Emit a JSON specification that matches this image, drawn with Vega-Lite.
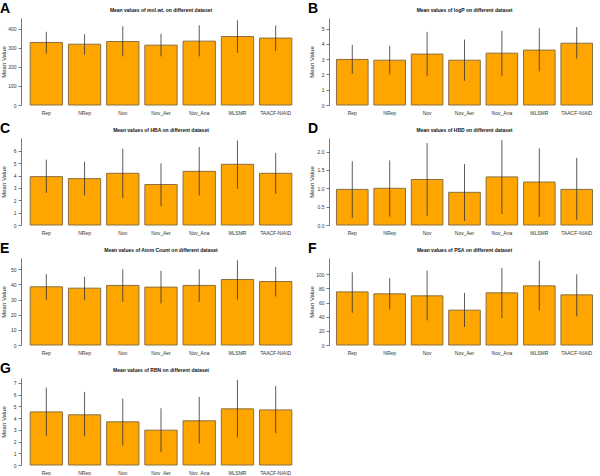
{
  "$schema": "https://vega.github.io/schema/vega-lite/v6.json",
  "padding": {"left": 0, "top": 2, "right": 0, "bottom": 0},
  "background": "white",
  "config": {
    "font": "Liberation Sans",
    "view": {"stroke": null},
    "axis": {"grid": false, "labelColor": "#333", "titleColor": "#222", "titleFontWeight": "normal", "domainColor": "#555", "tickColor": "#555", "labelOverlap": false},
    "axisX": {"domain": false, "ticks": false, "labelAngle": 0, "labelFontSize": 5, "labelPadding": 5, "title": null},
    "axisY": {"labelFontSize": 5, "tickSize": 3, "labelPadding": 2, "titleFontSize": 6, "titlePadding": 3, "minExtent": 12, "maxExtent": 12, "domainWidth": 0.8, "tickWidth": 0.8, "labelBound": false, "labelOverlap": false},
    "title": {"fontSize": 5, "fontWeight": "bold", "color": "#111", "offset": 5}
  },
  "data": {"values": [
    {"panel": "A", "dataset": "Rep", "mean": 327, "low": 270, "high": 383},
    {"panel": "A", "dataset": "NRep", "mean": 318, "low": 263, "high": 370},
    {"panel": "A", "dataset": "Nov", "mean": 332, "low": 254, "high": 412},
    {"panel": "A", "dataset": "Nov_Aer", "mean": 313, "low": 254, "high": 372},
    {"panel": "A", "dataset": "Nov_Ana", "mean": 334, "low": 254, "high": 417},
    {"panel": "A", "dataset": "MLSMR", "mean": 358, "low": 273, "high": 443},
    {"panel": "A", "dataset": "TAACF-NIAID", "mean": 350, "low": 283, "high": 416},
    {"panel": "B", "dataset": "Rep", "mean": 2.98, "low": 2.04, "high": 3.93},
    {"panel": "B", "dataset": "NRep", "mean": 2.93, "low": 2.0, "high": 3.87},
    {"panel": "B", "dataset": "Nov", "mean": 3.33, "low": 1.87, "high": 4.78},
    {"panel": "B", "dataset": "Nov_Aer", "mean": 2.93, "low": 1.59, "high": 4.28},
    {"panel": "B", "dataset": "Nov_Ana", "mean": 3.39, "low": 1.89, "high": 4.85},
    {"panel": "B", "dataset": "MLSMR", "mean": 3.59, "low": 2.2, "high": 5.02},
    {"panel": "B", "dataset": "TAACF-NIAID", "mean": 4.04, "low": 3.04, "high": 5.1},
    {"panel": "C", "dataset": "Rep", "mean": 3.92, "low": 2.6, "high": 5.3},
    {"panel": "C", "dataset": "NRep", "mean": 3.76, "low": 2.39, "high": 5.13},
    {"panel": "C", "dataset": "Nov", "mean": 4.19, "low": 2.18, "high": 6.18},
    {"panel": "C", "dataset": "Nov_Aer", "mean": 3.28, "low": 1.53, "high": 5.0},
    {"panel": "C", "dataset": "Nov_Ana", "mean": 4.35, "low": 2.39, "high": 6.32},
    {"panel": "C", "dataset": "MLSMR", "mean": 4.92, "low": 2.93, "high": 6.85},
    {"panel": "C", "dataset": "TAACF-NIAID", "mean": 4.19, "low": 2.53, "high": 5.83},
    {"panel": "D", "dataset": "Rep", "mean": 0.97, "low": 0.19, "high": 1.74},
    {"panel": "D", "dataset": "NRep", "mean": 1.0, "low": 0.23, "high": 1.76},
    {"panel": "D", "dataset": "Nov", "mean": 1.24, "low": 0.25, "high": 2.23},
    {"panel": "D", "dataset": "Nov_Aer", "mean": 0.89, "low": 0.11, "high": 1.66},
    {"panel": "D", "dataset": "Nov_Ana", "mean": 1.31, "low": 0.3, "high": 2.31},
    {"panel": "D", "dataset": "MLSMR", "mean": 1.17, "low": 0.22, "high": 2.09},
    {"panel": "D", "dataset": "TAACF-NIAID", "mean": 0.97, "low": 0.14, "high": 1.83},
    {"panel": "E", "dataset": "Rep", "mean": 38.4, "low": 29.8, "high": 46.7},
    {"panel": "E", "dataset": "NRep", "mean": 37.5, "low": 29.6, "high": 45.0},
    {"panel": "E", "dataset": "Nov", "mean": 39.3, "low": 28.5, "high": 50.0},
    {"panel": "E", "dataset": "Nov_Aer", "mean": 38.2, "low": 27.4, "high": 48.9},
    {"panel": "E", "dataset": "Nov_Ana", "mean": 39.3, "low": 28.5, "high": 50.0},
    {"panel": "E", "dataset": "MLSMR", "mean": 43.2, "low": 30.0, "high": 55.9},
    {"panel": "E", "dataset": "TAACF-NIAID", "mean": 41.9, "low": 32.0, "high": 51.5},
    {"panel": "F", "dataset": "Rep", "mean": 75.1, "low": 45.5, "high": 102.8},
    {"panel": "F", "dataset": "NRep", "mean": 72.3, "low": 50.2, "high": 94.4},
    {"panel": "F", "dataset": "Nov", "mean": 69.5, "low": 34.7, "high": 105.2},
    {"panel": "F", "dataset": "Nov_Aer", "mean": 49.3, "low": 25.4, "high": 73.7},
    {"panel": "F", "dataset": "Nov_Ana", "mean": 73.7, "low": 38.0, "high": 108.9},
    {"panel": "F", "dataset": "MLSMR", "mean": 83.6, "low": 48.8, "high": 119.2},
    {"panel": "F", "dataset": "TAACF-NIAID", "mean": 70.9, "low": 40.4, "high": 100.0},
    {"panel": "G", "dataset": "Rep", "mean": 4.53, "low": 2.49, "high": 6.6},
    {"panel": "G", "dataset": "NRep", "mean": 4.28, "low": 2.44, "high": 6.23},
    {"panel": "G", "dataset": "Nov", "mean": 3.68, "low": 1.67, "high": 5.67},
    {"panel": "G", "dataset": "Nov_Aer", "mean": 2.97, "low": 1.1, "high": 4.84},
    {"panel": "G", "dataset": "Nov_Ana", "mean": 3.77, "low": 1.84, "high": 5.81},
    {"panel": "G", "dataset": "MLSMR", "mean": 4.79, "low": 2.35, "high": 7.25},
    {"panel": "G", "dataset": "TAACF-NIAID", "mean": 4.7, "low": 2.72, "high": 6.74}
  ]},
  "columns": 2,
  "spacing": {"row": 7, "column": 7},
  "align": "each",
  "concat": [
    {"title": {"text": "A", "anchor": "start", "fontSize": 14, "fontWeight": "bold", "color": "#000", "offset": -8},
     "vconcat": [{"title": "Mean values of mol.wt. on different dataset", "width": 280, "height": 87,
      "transform": [{"filter": "datum.panel == 'A'"}],
      "encoding": {"x": {"field": "dataset", "type": "nominal", "sort": null, "scale": {"paddingInner": 0.155, "paddingOuter": 0.24}}},
      "layer": [
        {"mark": {"type": "bar", "fill": "#FFA500", "stroke": "#8a7040", "strokeWidth": 1},
         "encoding": {"y": {"field": "mean", "type": "quantitative", "title": "Mean Value", "scale": {"domain": [0, 455], "nice": false}, "axis": {"values": [0, 100, 200, 300, 400], "labelOverlap": false}}}},
        {"mark": {"type": "rule", "color": "#333", "strokeWidth": 0.8},
         "encoding": {"y": {"field": "low", "type": "quantitative", "title": "Mean Value", "axis": {"values": [0, 100, 200, 300, 400], "labelOverlap": false}}, "y2": {"field": "high"}}}
      ]}]},
    {"title": {"text": "B", "anchor": "start", "fontSize": 14, "fontWeight": "bold", "color": "#000", "offset": -8},
     "vconcat": [{"title": "Mean values of logP on different dataset", "width": 271, "height": 87,
      "transform": [{"filter": "datum.panel == 'B'"}],
      "encoding": {"x": {"field": "dataset", "type": "nominal", "sort": null, "scale": {"paddingInner": 0.155, "paddingOuter": 0.2}}},
      "layer": [
        {"mark": {"type": "bar", "fill": "#FFA500", "stroke": "#8a7040", "strokeWidth": 1},
         "encoding": {"y": {"field": "mean", "type": "quantitative", "title": "Mean Value", "scale": {"domain": [0, 5.69], "nice": false}, "axis": {"values": [0, 1, 2, 3, 4, 5], "labelOverlap": false}}}},
        {"mark": {"type": "rule", "color": "#333", "strokeWidth": 0.8},
         "encoding": {"y": {"field": "low", "type": "quantitative", "title": "Mean Value", "axis": {"values": [0, 1, 2, 3, 4, 5], "labelOverlap": false}}, "y2": {"field": "high"}}}
      ]}]},
    {"title": {"text": "C", "anchor": "start", "fontSize": 14, "fontWeight": "bold", "color": "#000", "offset": -8},
     "vconcat": [{"title": "Mean values of HBA on different dataset", "width": 280, "height": 87,
      "transform": [{"filter": "datum.panel == 'C'"}],
      "encoding": {"x": {"field": "dataset", "type": "nominal", "sort": null, "scale": {"paddingInner": 0.155, "paddingOuter": 0.24}}},
      "layer": [
        {"mark": {"type": "bar", "fill": "#FFA500", "stroke": "#8a7040", "strokeWidth": 1},
         "encoding": {"y": {"field": "mean", "type": "quantitative", "title": "Mean Value", "scale": {"domain": [0, 7.05], "nice": false}, "axis": {"values": [0, 1, 2, 3, 4, 5, 6], "labelOverlap": false}}}},
        {"mark": {"type": "rule", "color": "#333", "strokeWidth": 0.8},
         "encoding": {"y": {"field": "low", "type": "quantitative", "title": "Mean Value", "axis": {"values": [0, 1, 2, 3, 4, 5, 6], "labelOverlap": false}}, "y2": {"field": "high"}}}
      ]}]},
    {"title": {"text": "D", "anchor": "start", "fontSize": 14, "fontWeight": "bold", "color": "#000", "offset": -8},
     "vconcat": [{"title": "Mean values of HBD on different dataset", "width": 271, "height": 87,
      "transform": [{"filter": "datum.panel == 'D'"}],
      "encoding": {"x": {"field": "dataset", "type": "nominal", "sort": null, "scale": {"paddingInner": 0.155, "paddingOuter": 0.2}}},
      "layer": [
        {"mark": {"type": "bar", "fill": "#FFA500", "stroke": "#8a7040", "strokeWidth": 1},
         "encoding": {"y": {"field": "mean", "type": "quantitative", "title": "Mean Value", "scale": {"domain": [0, 2.37], "nice": false}, "axis": {"values": [0, 0.5, 1, 1.5, 2], "format": ".1f", "labelOverlap": false}}}},
        {"mark": {"type": "rule", "color": "#333", "strokeWidth": 0.8},
         "encoding": {"y": {"field": "low", "type": "quantitative", "title": "Mean Value", "axis": {"values": [0, 0.5, 1, 1.5, 2], "format": ".1f", "labelOverlap": false}}, "y2": {"field": "high"}}}
      ]}]},
    {"title": {"text": "E", "anchor": "start", "fontSize": 14, "fontWeight": "bold", "color": "#000", "offset": -8},
     "vconcat": [{"title": "Mean values of Atom Count on different dataset", "width": 280, "height": 87,
      "transform": [{"filter": "datum.panel == 'E'"}],
      "encoding": {"x": {"field": "dataset", "type": "nominal", "sort": null, "scale": {"paddingInner": 0.155, "paddingOuter": 0.24}}},
      "layer": [
        {"mark": {"type": "bar", "fill": "#FFA500", "stroke": "#8a7040", "strokeWidth": 1},
         "encoding": {"y": {"field": "mean", "type": "quantitative", "title": "Mean Value", "scale": {"domain": [0, 57.4], "nice": false}, "axis": {"values": [0, 10, 20, 30, 40, 50], "labelOverlap": false}}}},
        {"mark": {"type": "rule", "color": "#333", "strokeWidth": 0.8},
         "encoding": {"y": {"field": "low", "type": "quantitative", "title": "Mean Value", "axis": {"values": [0, 10, 20, 30, 40, 50], "labelOverlap": false}}, "y2": {"field": "high"}}}
      ]}]},
    {"title": {"text": "F", "anchor": "start", "fontSize": 14, "fontWeight": "bold", "color": "#000", "offset": -8},
     "vconcat": [{"title": "Mean values of PSA on different dataset", "width": 271, "height": 87,
      "transform": [{"filter": "datum.panel == 'F'"}],
      "encoding": {"x": {"field": "dataset", "type": "nominal", "sort": null, "scale": {"paddingInner": 0.155, "paddingOuter": 0.2}}},
      "layer": [
        {"mark": {"type": "bar", "fill": "#FFA500", "stroke": "#8a7040", "strokeWidth": 1},
         "encoding": {"y": {"field": "mean", "type": "quantitative", "title": "Mean Value", "scale": {"domain": [0, 123], "nice": false}, "axis": {"values": [0, 20, 40, 60, 80, 100], "labelOverlap": false}}}},
        {"mark": {"type": "rule", "color": "#333", "strokeWidth": 0.8},
         "encoding": {"y": {"field": "low", "type": "quantitative", "title": "Mean Value", "axis": {"values": [0, 20, 40, 60, 80, 100], "labelOverlap": false}}, "y2": {"field": "high"}}}
      ]}]},
    {"title": {"text": "G", "anchor": "start", "fontSize": 14, "fontWeight": "bold", "color": "#000", "offset": -8},
     "vconcat": [{"title": "Mean values of RBN on different dataset", "width": 280, "height": 87,
      "transform": [{"filter": "datum.panel == 'G'"}],
      "encoding": {"x": {"field": "dataset", "type": "nominal", "sort": null, "scale": {"paddingInner": 0.155, "paddingOuter": 0.24}}},
      "layer": [
        {"mark": {"type": "bar", "fill": "#FFA500", "stroke": "#8a7040", "strokeWidth": 1},
         "encoding": {"y": {"field": "mean", "type": "quantitative", "title": "Mean Value", "scale": {"domain": [0, 7.42], "nice": false}, "axis": {"values": [0, 1, 2, 3, 4, 5, 6, 7], "labelOverlap": false}}}},
        {"mark": {"type": "rule", "color": "#333", "strokeWidth": 0.8},
         "encoding": {"y": {"field": "low", "type": "quantitative", "title": "Mean Value", "axis": {"values": [0, 1, 2, 3, 4, 5, 6, 7], "labelOverlap": false}}, "y2": {"field": "high"}}}
      ]}]}
  ]
}
